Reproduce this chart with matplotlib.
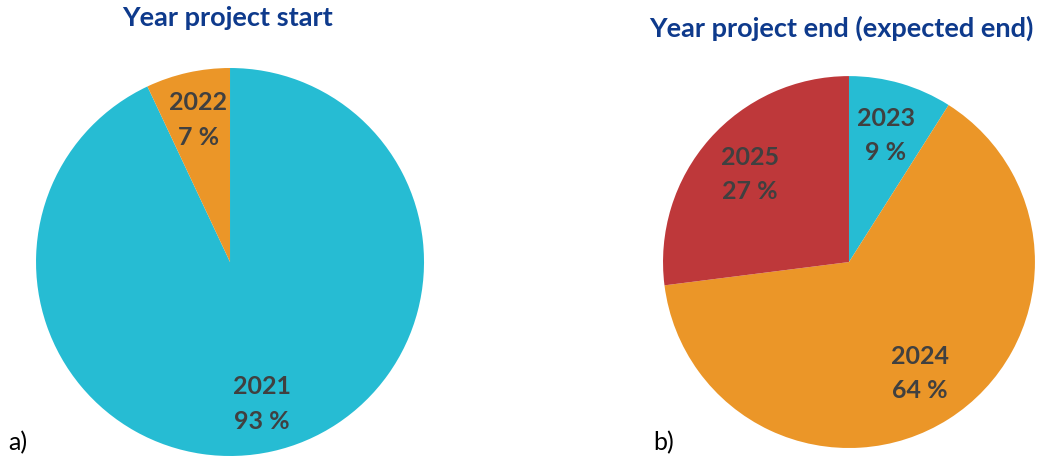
import matplotlib.pyplot as plt

# data
start_years = ["2021", "2022"]
start_share = [93, 7]
end_years = ["2023", "2024", "2025"]
end_share = [9, 64, 27]

start_colors = ["#26BCD3", "#EB9628"]
end_colors = ["#26BCD3", "#EB9628", "#BE383A"]

title_color = "#0E3A8C"
label_color = "#404040"
plt.rcParams["font.family"] = ["Lato", "DejaVu Sans"]

fig = plt.figure(figsize=(10.38, 4.62), dpi=100)
ax1 = fig.add_axes([0.0347, 0.013, 0.3738, 0.8398])
ax2 = fig.add_axes([0.6387, 0.0303, 0.3584, 0.805])


def draw_pie(ax, years, share, colors, dist):
    wedges, texts, autotexts = ax.pie(
        share, colors=colors, startangle=90, counterclock=False,
        autopct="%1.0f", pctdistance=dist,
        wedgeprops=dict(linewidth=0))
    for t, yr, v in zip(autotexts, years, share):
        t.set_text(f"{yr}\n{v} %")
        t.set_fontsize(18)
        t.set_fontweight("bold")
        t.set_color(label_color)
        t.set_linespacing(1.6)
    ax.set_xlim(-1, 1)
    ax.set_ylim(-1, 1)
    ax.set_aspect("equal")
    ax.axis("off")


draw_pie(ax1, start_years, start_share, start_colors, 0.75)
draw_pie(ax2, end_years, end_share, end_colors, 0.71)

fig.text(228 / 1038, 1 - 18 / 462, "Year project start", ha="center", va="center",
         fontsize=19.5, fontweight="bold", color=title_color)
fig.text(841 / 1038, 1 - 28 / 462, "Year project end (expected end)", ha="center", va="center",
         fontsize=19.5, fontweight="bold", color=title_color)
fig.text(8 / 1038, 1 - 443 / 462, "a)", ha="left", va="center", fontsize=18, color="black")
fig.text(653 / 1038, 1 - 443 / 462, "b)", ha="left", va="center", fontsize=18, color="black")

fig.savefig("out.png", dpi=100)
